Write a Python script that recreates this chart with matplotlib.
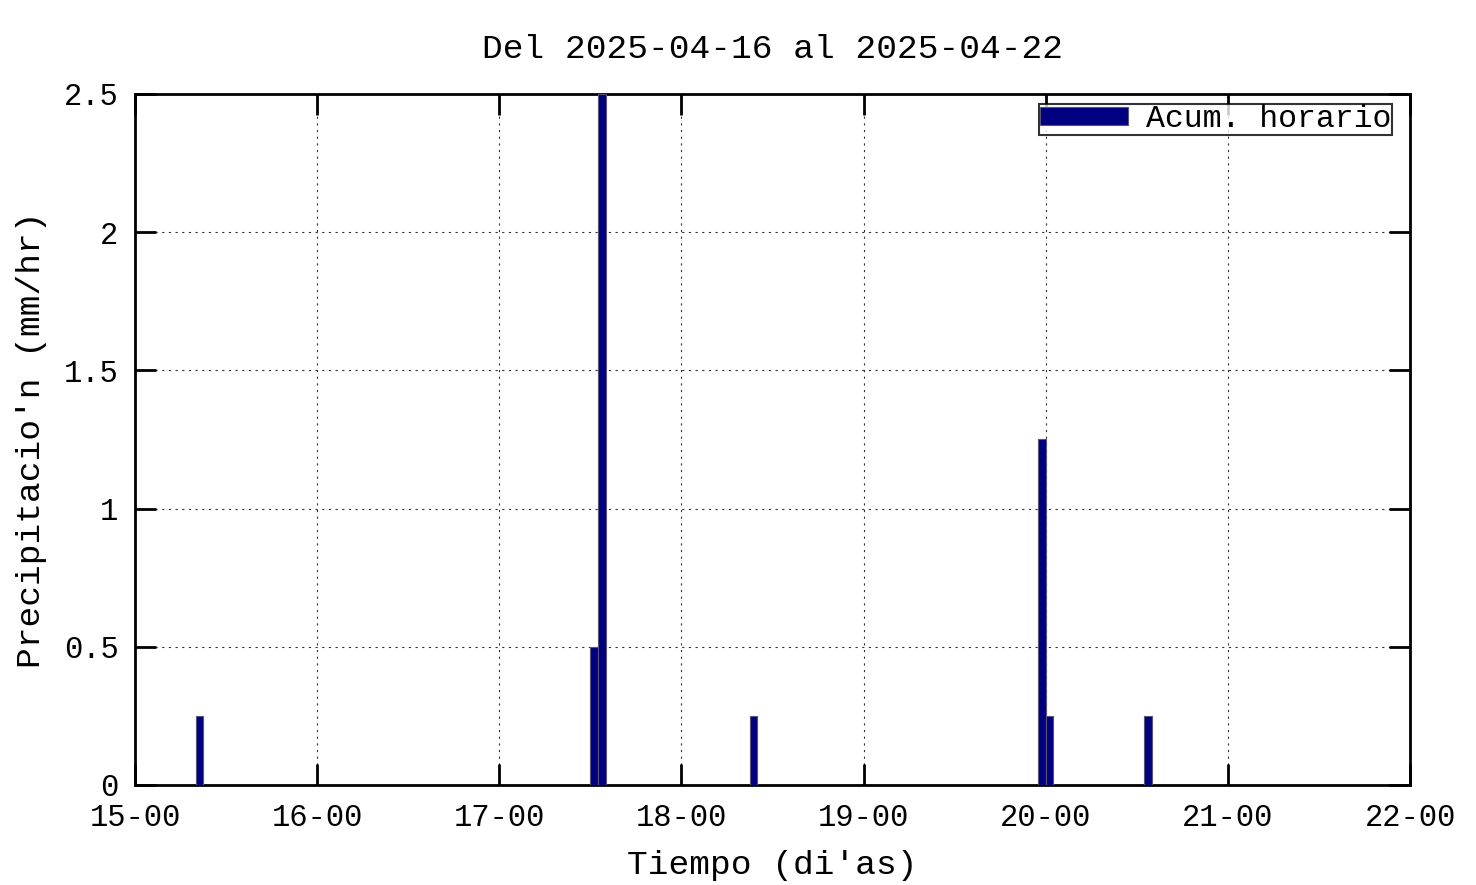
import matplotlib
matplotlib.use("Agg")
import matplotlib.pyplot as plt
import matplotlib.dates as mdates
from datetime import datetime

# hourly rain, bars drawn at the middle of each hour
rain_times = ["2025-04-15 08:30", "2025-04-17 12:30", "2025-04-17 13:30",
              "2025-04-18 09:30", "2025-04-19 23:30", "2025-04-20 00:30",
              "2025-04-20 13:30"]
rain_mm = [0.25, 0.5, 2.5, 0.25, 1.25, 0.25, 0.25]

x_start = "2025-04-15 00:00"
x_end = "2025-04-22 00:00"
y_ticks = [0, 0.5, 1, 1.5, 2, 2.5]
y_tick_labels = ["0", "0.5", "1", "1.5", "2", "2.5"]

plt.rcParams['font.family'] = ['Liberation Mono', 'DejaVu Sans Mono']

fmt = "%Y-%m-%d %H:%M"
times = [datetime.strptime(t, fmt) for t in rain_times]

fig = plt.figure(figsize=(14.76, 8.85), dpi=100)
ax = fig.add_axes([0.0915, 0.113, 0.8638, 0.7808])

ax.bar(times, rain_mm, width=1 / 24, color='#000080', edgecolor='#555577',
       linewidth=0.8, label='Acum. horario', zorder=3)

ax.set_xlim(datetime.strptime(x_start, fmt), datetime.strptime(x_end, fmt))
ax.set_ylim(0, 2.5)
ax.xaxis.set_major_locator(mdates.DayLocator())
ax.xaxis.set_major_formatter(mdates.DateFormatter('%d-%H'))
ax.set_yticks(y_ticks)
ax.set_yticklabels(y_tick_labels)

ax.grid(True, color='#333333', linestyle=(0, (2, 4)), linewidth=0.8)
ax.tick_params(direction='in', length=15, width=2, labelsize=22,
               top=True, right=True)
ax.tick_params(axis='x', pad=13)
ax.tick_params(axis='y', pad=12)
for s in ax.spines.values():
    s.set_linewidth(2)

ax.set_title('Del 2025-04-16 al 2025-04-22', fontsize=24.8, pad=26)
ax.set_xlabel("Tiempo (di'as)", fontsize=24.8, labelpad=12)
ax.set_ylabel("Precipitacio'n (mm/hr)", fontsize=24.8, labelpad=12)

leg = ax.legend(loc='upper right', fontsize=22.7, frameon=True, fancybox=False,
                bbox_to_anchor=(0.986, 0.986), borderaxespad=0,
                handlelength=2.8, handleheight=0.5,
                borderpad=0.02, handletextpad=0.58)
leg.get_frame().set_edgecolor('black')
leg.get_frame().set_linewidth(1.5)

fig.savefig('out.png', dpi=100)
